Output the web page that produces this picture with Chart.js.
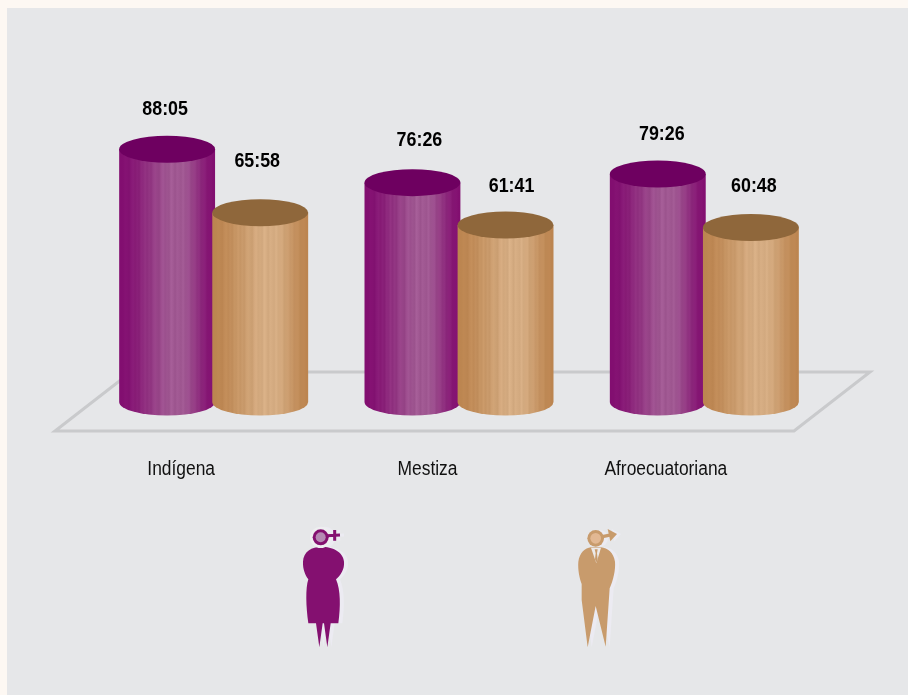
<!DOCTYPE html>
<html>
<head>
<meta charset="utf-8">
<script src="https://cdn.jsdelivr.net/npm/chart.js@4"></script>
<style>
html,body{margin:0;padding:0;background:#fdf8f3;overflow:hidden}
canvas{display:block}
</style>
</head>
<body>
<canvas id="c" width="908" height="695"></canvas>
<script>
const categories = ['Indígena', 'Mestiza', 'Afroecuatoriana'];
const mujeresLabels = ['88:05', '76:26', '79:26'];
const hombresLabels = ['65:58', '61:41', '60:48'];
const mujeresHours = [88.08, 76.43, 79.43];
const hombresHours = [65.97, 61.68, 60.80];

const PANEL = '#e6e7e9';
const FONT = '"Liberation Sans",Arial,sans-serif';
const TICK_SQUEEZE = 0.87, VALUE_SQUEEZE = 0.85;

// Layout nudges that reproduce the hand placement of the original artwork
const tickNudge = [-32.5, -31.5, -38.5];
const valueNudge = [[[-2, -40], [7, -42], [4, -40]], [[-3, -51], [6, -39], [3, -41]]];
const styles = [
  {edge: [130, 14, 112], mid: [160, 88, 146], cap: '#6e0060'},
  {edge: [188, 133, 80], mid: [213, 172, 130], cap: '#8f673b'}
];
const stripeShift = [0, 1, -2, 2, 0, -3, 2, 4, -2, 1, -4, 3, 0, 5, -3, 1, -5, 2, 4, -1, -6, 3, 6, -2, 0, -4, 7, 2, -5, 3, 0, -3, 5, -2, 1, 4, -4, 0, 3, -2, 2, -3, 1, 3, -2, 0, 2, -1, 0];

function barGradient(ctx, x, w, st) {
  const g = ctx.createLinearGradient(x - w / 2, 0, x + w / 2, 0);
  const n = stripeShift.length - 1;
  stripeShift.forEach((s, i) => {
    const t = i / n;
    const k = t < 0.62 ? t / 0.62 : (1 - t) / 0.38;
    const e = Math.min(1, k * k * (3 - 2 * k) * 1.05);
    const c = st.edge.map((v, j) => Math.round(v + (st.mid[j] - v) * e + s * (k > 0.1 ? 1 : 0)));
    g.addColorStop(t, `rgb(${c[0]},${c[1]},${c[2]})`);
  });
  return g;
}

const RY_TOP = 13.5, RY_BOTTOM = 13.5;

function drawBottoms(chart, i) {
  const ctx = chart.ctx;
  chart.getDatasetMeta(i).data.forEach(b => {
    ctx.save();
    ctx.fillStyle = barGradient(ctx, b.x, b.width, styles[i]);
    ctx.beginPath();
    ctx.ellipse(b.x, b.base, b.width / 2, RY_BOTTOM, 0, 0, Math.PI);
    ctx.closePath();
    ctx.fill();
    ctx.restore();
  });
}
function drawCaps(chart, i) {
  const ctx = chart.ctx;
  const texts = i === 0 ? mujeresLabels : hombresLabels;
  chart.getDatasetMeta(i).data.forEach((b, j) => {
    ctx.save();
    ctx.fillStyle = styles[i].cap;
    ctx.beginPath();
    ctx.ellipse(b.x, b.y, b.width / 2, RY_TOP, 0, 0, Math.PI * 2);
    ctx.fill();
    ctx.fillStyle = '#000';
    ctx.font = 'bold 21px ' + FONT;
    ctx.textAlign = 'center';
    ctx.textBaseline = 'middle';
    ctx.translate(b.x + valueNudge[i][j][0], b.y + valueNudge[i][j][1]);
    ctx.scale(VALUE_SQUEEZE, 1);
    ctx.fillText(texts[j], 0, 0);
    ctx.restore();
  });
}

function womanIcon(ctx, x, y, body, ring, inner, halo) {
  ctx.save();
  ctx.translate(x, y);
  ctx.scale(1 / 3, 1 / 3);
  ctx.fillStyle = body;
  ctx.beginPath();
  ctx.moveTo(95, 80);
  ctx.bezierCurveTo(65, 80, 40, 95, 39, 125);
  ctx.bezierCurveTo(38, 148, 46, 165, 55, 178);
  ctx.bezierCurveTo(46, 205, 48, 260, 55, 310);
  ctx.lineTo(78, 310); ctx.lineTo(88, 382); ctx.lineTo(98, 310);
  ctx.lineTo(102, 310); ctx.lineTo(112, 382); ctx.lineTo(122, 310);
  ctx.lineTo(145, 310);
  ctx.bezierCurveTo(152, 260, 152, 210, 138, 178);
  ctx.bezierCurveTo(152, 165, 164, 148, 162, 125);
  ctx.bezierCurveTo(160, 95, 125, 80, 95, 80);
  ctx.closePath();
  ctx.fill();
  ctx.fillStyle = halo;
  ctx.beginPath(); ctx.arc(92, 52, 32, 0, Math.PI * 2); ctx.fill();
  ctx.fillStyle = ring;
  ctx.beginPath(); ctx.arc(92, 52, 24, 0, Math.PI * 2); ctx.fill();
  ctx.strokeStyle = ring; ctx.lineWidth = 9;
  ctx.beginPath(); ctx.moveTo(110, 47); ctx.lineTo(150, 45); ctx.moveTo(134, 30); ctx.lineTo(134, 62); ctx.stroke();
  ctx.fillStyle = inner;
  ctx.beginPath(); ctx.arc(92, 52, 15, 0, Math.PI * 2); ctx.fill();
  ctx.restore();
}
function manIcon(ctx, x, y, body, ring, inner, shirt, halo) {
  ctx.save();
  ctx.translate(x, y);
  ctx.scale(1 / 3, 1 / 3);
  ctx.fillStyle = body;
  ctx.beginPath();
  ctx.moveTo(78, 82);
  ctx.bezierCurveTo(60, 84, 44, 98, 40, 125);
  ctx.bezierCurveTo(38, 150, 44, 175, 50, 192);
  ctx.lineTo(50, 240); ctx.lineTo(68, 382); ctx.lineTo(92, 258); ctx.lineTo(122, 380);
  ctx.lineTo(134, 205);
  ctx.bezierCurveTo(145, 180, 152, 150, 150, 125);
  ctx.bezierCurveTo(146, 98, 128, 84, 108, 82);
  ctx.closePath();
  ctx.fill();
  if (shirt) {
    ctx.fillStyle = shirt;
    ctx.beginPath(); ctx.moveTo(78, 83); ctx.lineTo(108, 83); ctx.lineTo(94, 130); ctx.closePath(); ctx.fill();
    ctx.fillStyle = body;
    ctx.beginPath(); ctx.moveTo(89, 88); ctx.lineTo(98, 88); ctx.lineTo(96, 100); ctx.lineTo(98, 118); ctx.lineTo(94, 128); ctx.lineTo(90, 118); ctx.lineTo(92, 100); ctx.closePath(); ctx.fill();
  }
  ctx.fillStyle = ring;
  ctx.beginPath(); ctx.arc(92, 55, 25, 0, Math.PI * 2); ctx.fill();
  ctx.strokeStyle = ring; ctx.lineWidth = 10;
  ctx.beginPath(); ctx.moveTo(112, 50); ctx.lineTo(142, 44); ctx.stroke();
  ctx.beginPath(); ctx.moveTo(128, 27); ctx.lineTo(156, 42); ctx.lineTo(136, 64); ctx.closePath(); ctx.fill();
  ctx.fillStyle = inner;
  ctx.beginPath(); ctx.arc(92, 55, 16, 0, Math.PI * 2); ctx.fill();
  ctx.restore();
}

const artwork = {
  id: 'artwork',
  beforeDraw(chart) {
    const ctx = chart.ctx;
    ctx.save();
    ctx.fillStyle = PANEL;
    ctx.fillRect(7, 8, 901, 687);
    // floor
    ctx.strokeStyle = '#c9cacc';
    ctx.lineWidth = 3;
    ctx.lineJoin = 'miter';
    ctx.beginPath();
    ctx.moveTo(55, 431); ctx.lineTo(794, 431); ctx.lineTo(870, 372); ctx.lineTo(131, 372);
    ctx.closePath();
    ctx.stroke();
    // gender figures
    womanIcon(ctx, 294, 520, '#ecebf2', '#ecebf2', '#ecebf2', '#ecebf2');
    womanIcon(ctx, 290, 520, '#841070', '#841070', '#b58ab3', '#eeeef0');
    manIcon(ctx, 569, 520, '#ecebf2', '#ecebf2', '#ecebf2');
    manIcon(ctx, 565, 520, '#c89b6c', '#c89b6c', '#e2b893', '#eceaea');
    ctx.restore();
    // hand placement and condensed setting of the axis text
    const sx = chart.scales.x;
    const items = sx.getLabelItems();
    if (!items._nudged) {
      items.forEach((it, i) => { it.options.translation[0] = (it.options.translation[0] + tickNudge[i]) / TICK_SQUEEZE; });
      items._nudged = true;
    }
    if (!sx._squeezed) {
      const drawLabels = sx.drawLabels;
      sx.drawLabels = function (area) {
        this.ctx.save();
        this.ctx.scale(TICK_SQUEEZE, 1);
        drawLabels.call(this, area);
        this.ctx.restore();
      };
      sx._squeezed = true;
    }
  },
  beforeDatasetDraw(chart, args) {
    if (args.index === 1 && !chart._orangeTurn) return false;
    if (args.index === 0) drawBottoms(chart, 0);
  },
  afterDatasetDraw(chart, args) {
    if (args.index === 0) {
      drawCaps(chart, 0);
      drawBottoms(chart, 1);
      chart._orangeTurn = true;
      chart.getDatasetMeta(1).controller.draw();
      chart._orangeTurn = false;
      drawCaps(chart, 1);
    }
  }
};

const fillFor = i => c => {
  const el = c.chart.getDatasetMeta(i).data[c.dataIndex];
  if (!el || !el.width) return styles[i].cap;
  return barGradient(c.chart.ctx, el.x, el.width, styles[i]);
};

const chart = new Chart(document.getElementById('c'), {
  type: 'bar',
  data: {
    labels: categories,
    datasets: [
      {label: 'Mujeres', data: mujeresHours, backgroundColor: fillFor(0), borderWidth: 0},
      {label: 'Hombres', data: hombresHours, backgroundColor: fillFor(1), borderWidth: 0}
    ]
  },
  options: {
    responsive: false,
    animation: false,
    events: [],
    categoryPercentage: 0.759,
    barPercentage: 1.03,
    layout: {padding: {left: 91, right: 81, top: 115, bottom: 0}},
    plugins: {legend: {display: false}, tooltip: {enabled: false}},
    scales: {
      x: {
        grid: {display: false},
        border: {display: false},
        afterFit(s) { s.height = 293; },
        ticks: {color: '#111', padding: 47, maxRotation: 0, autoSkip: false, font: {family: FONT, size: 20}}
      },
      y: {display: false, min: 0, max: 100}
    }
  },
  plugins: [artwork]
});
chart.update();
</script>
</body>
</html>
